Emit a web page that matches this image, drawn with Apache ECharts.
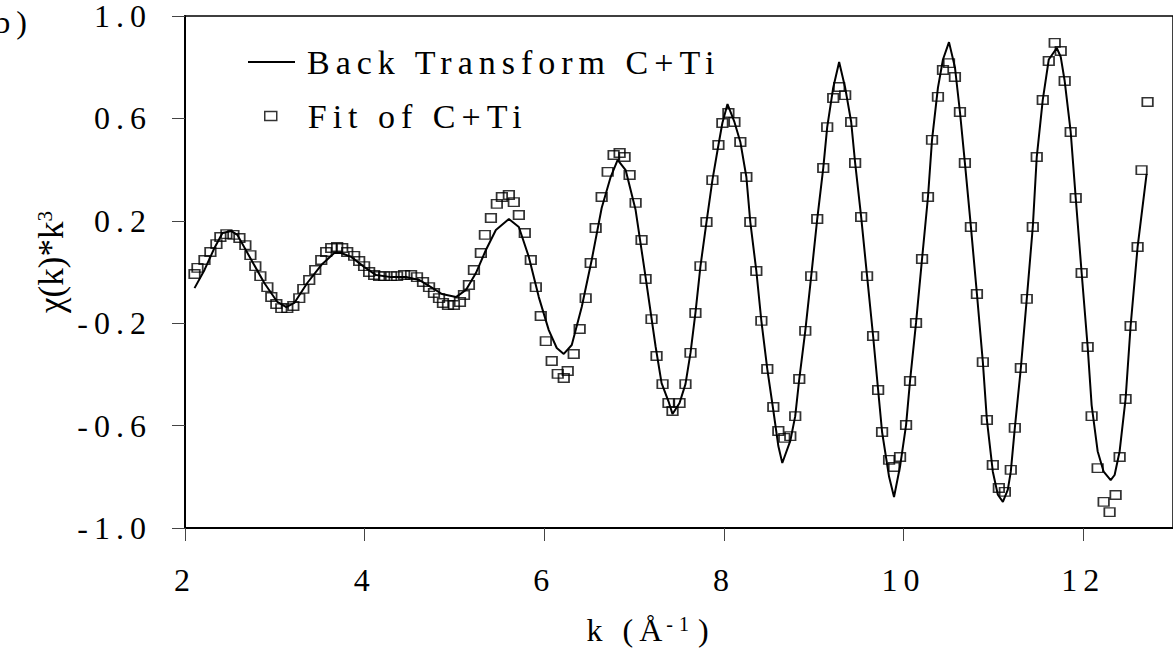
<!DOCTYPE html>
<html>
<head>
<meta charset="utf-8">
<script src="https://cdn.jsdelivr.net/npm/echarts@6.0.0/dist/echarts.min.js"></script>
<style>
  html, body { margin: 0; padding: 0; background: #fff; }
  #chart { width: 1173px; height: 661px; }
  /* the original figure is stretched sideways, so its text looks tracked out */
  #chart text { letter-spacing: 6px; }
  /* the rotated y title is not stretched along its length */
  #chart text[style*="35px"], #chart text[style*="21px"] { letter-spacing: 0; }
</style>
</head>
<body>
<div id="chart"></div>
<script>
// back transform (solid line)
const lineK = [
  2.106, 2.217, 2.328, 2.417, 2.517, 2.583, 2.739, 2.883, 3.028, 3.128, 3.217, 3.361, 3.517, 3.661, 3.739,
  3.850, 3.994, 4.128, 4.294, 4.472, 4.606, 4.739, 4.861, 5.017, 5.128, 5.239, 5.350, 5.461, 5.606, 5.717,
  5.828, 5.939, 6.050, 6.139, 6.217, 6.306, 6.417, 6.528, 6.639, 6.739, 6.817, 6.906, 7.017, 7.128, 7.239,
  7.306, 7.383, 7.428, 7.506, 7.572, 7.628, 7.683, 7.739, 7.806, 7.872, 7.939, 7.983, 8.040, 8.117, 8.183,
  8.250, 8.294, 8.361, 8.417, 8.483, 8.550, 8.606, 8.650, 8.739, 8.794, 8.839, 8.906, 8.972, 9.039, 9.106,
  9.150, 9.217, 9.283, 9.350, 9.417, 9.461, 9.528, 9.594, 9.661, 9.717, 9.761, 9.839, 9.894, 9.961, 10.028,
  10.072, 10.139, 10.206, 10.272, 10.317, 10.383, 10.439, 10.506, 10.572, 10.628, 10.683, 10.750, 10.817, 10.883, 10.928,
  10.994, 11.050, 11.106, 11.161, 11.194, 11.239, 11.306, 11.372, 11.439, 11.483, 11.550, 11.617, 11.706, 11.750, 11.794,
  11.861, 11.917, 11.983, 12.050, 12.094, 12.161, 12.228, 12.306, 12.350, 12.406, 12.472, 12.528, 12.606, 12.706,
]
const lineChi = [
  -0.063, 0.008, 0.094, 0.152, 0.160, 0.145, 0.047, -0.043, -0.117, -0.137, -0.121, -0.043, 0.027, 0.074, 0.074,
  0.059, 0.020, -0.012, -0.020, -0.020, -0.031, -0.059, -0.086, -0.098, -0.070, -0.004, 0.086, 0.164, 0.207, 0.176,
  0.059, -0.098, -0.227, -0.297, -0.320, -0.285, -0.137, 0.047, 0.250, 0.371, 0.438, 0.398, 0.242, -0.020, -0.290,
  -0.434, -0.505, -0.555, -0.512, -0.438, -0.316, -0.160, 0.023, 0.195, 0.359, 0.496, 0.582, 0.656, 0.586, 0.508,
  0.371, 0.195, 0.004, -0.191, -0.379, -0.540, -0.680, -0.746, -0.660, -0.563, -0.418, -0.230, -0.016, 0.207, 0.406,
  0.566, 0.720, 0.820, 0.720, 0.586, 0.426, 0.215, -0.016, -0.250, -0.461, -0.625, -0.800, -0.879, -0.760, -0.598,
  -0.426, -0.199, 0.051, 0.293, 0.516, 0.720, 0.830, 0.898, 0.800, 0.625, 0.426, 0.176, -0.086, -0.352, -0.578,
  -0.780, -0.870, -0.898, -0.850, -0.780, -0.609, -0.375, -0.105, 0.176, 0.449, 0.672, 0.830, 0.875, 0.840, 0.746,
  0.547, 0.289, -0.004, -0.293, -0.520, -0.700, -0.780, -0.813, -0.793, -0.700, -0.496, -0.211, 0.098, 0.383,
]

// fit (open squares)
const fitK = [
  2.106, 2.139, 2.217, 2.283, 2.350, 2.394, 2.461, 2.539, 2.606, 2.672, 2.728, 2.783, 2.839, 2.917, 2.961,
  3.017, 3.072, 3.139, 3.206, 3.272, 3.317, 3.383, 3.450, 3.517, 3.572, 3.628, 3.694, 3.750, 3.806, 3.883,
  3.939, 3.994, 4.050, 4.106, 4.161, 4.217, 4.294, 4.361, 4.439, 4.517, 4.583, 4.650, 4.717, 4.772, 4.828,
  4.872, 4.928, 4.994, 5.061, 5.106, 5.161, 5.217, 5.294, 5.339, 5.406, 5.472, 5.528, 5.606, 5.661, 5.717,
  5.783, 5.850, 5.906, 5.961, 6.017, 6.083, 6.150, 6.217, 6.261, 6.328, 6.394, 6.461, 6.517, 6.572, 6.639,
  6.706, 6.772, 6.839, 6.894, 6.950, 7.017, 7.083, 7.128, 7.194, 7.250, 7.317, 7.383, 7.428, 7.506, 7.572,
  7.628, 7.683, 7.739, 7.806, 7.872, 7.939, 7.983, 8.050, 8.117, 8.183, 8.250, 8.294, 8.361, 8.417, 8.483,
  8.550, 8.606, 8.672, 8.739, 8.794, 8.839, 8.906, 8.972, 9.039, 9.106, 9.150, 9.217, 9.283, 9.350, 9.417,
  9.461, 9.528, 9.594, 9.661, 9.717, 9.761, 9.839, 9.894, 9.961, 10.028, 10.072, 10.139, 10.206, 10.272, 10.317,
  10.383, 10.439, 10.506, 10.572, 10.628, 10.683, 10.750, 10.817, 10.883, 10.928, 10.994, 11.061, 11.128, 11.194, 11.239,
  11.306, 11.372, 11.439, 11.483, 11.550, 11.617, 11.683, 11.750, 11.794, 11.861, 11.917, 11.983, 12.050, 12.094, 12.161,
  12.228, 12.294, 12.361, 12.406, 12.472, 12.528, 12.606, 12.650, 12.717,
]
const fitChi = [
  -0.008, 0.016, 0.047, 0.078, 0.109, 0.137, 0.148, 0.145, 0.133, 0.105, 0.066, 0.023, -0.016, -0.059, -0.098,
  -0.125, -0.141, -0.141, -0.133, -0.102, -0.066, -0.031, 0.008, 0.047, 0.078, 0.094, 0.098, 0.094, 0.078, 0.063,
  0.043, 0.023, 0.000, -0.012, -0.016, -0.016, -0.016, -0.016, -0.012, -0.012, -0.020, -0.039, -0.059, -0.082, -0.102,
  -0.121, -0.129, -0.129, -0.117, -0.090, -0.051, 0.008, 0.074, 0.145, 0.211, 0.266, 0.293, 0.301, 0.273, 0.223,
  0.152, 0.047, -0.059, -0.172, -0.270, -0.348, -0.398, -0.414, -0.387, -0.320, -0.223, -0.102, 0.035, 0.172, 0.293,
  0.391, 0.457, 0.465, 0.449, 0.379, 0.270, 0.125, -0.027, -0.184, -0.328, -0.438, -0.512, -0.543, -0.512, -0.438,
  -0.316, -0.160, 0.023, 0.195, 0.359, 0.496, 0.582, 0.621, 0.586, 0.508, 0.371, 0.195, 0.004, -0.191, -0.379,
  -0.527, -0.621, -0.648, -0.641, -0.563, -0.418, -0.230, -0.016, 0.207, 0.406, 0.566, 0.680, 0.723, 0.691, 0.586,
  0.426, 0.215, -0.016, -0.250, -0.461, -0.625, -0.734, -0.762, -0.723, -0.598, -0.426, -0.199, 0.051, 0.293, 0.516,
  0.684, 0.789, 0.816, 0.762, 0.625, 0.426, 0.176, -0.086, -0.352, -0.578, -0.754, -0.844, -0.859, -0.773, -0.609,
  -0.375, -0.105, 0.176, 0.449, 0.672, 0.824, 0.895, 0.863, 0.746, 0.547, 0.289, -0.004, -0.293, -0.563, -0.766,
  -0.898, -0.938, -0.871, -0.723, -0.496, -0.211, 0.098, 0.398, 0.664,
]

const xTicks = [2, 4, 6, 8, 10, 12]
const yTicks = [-1.0, -0.6, -0.2, 0.2, 0.6, 1.0]

const FONT = 'Liberation Serif'
const textBase = { fontFamily: FONT, fontSize: 32, color: '#000' }
const SPACING = 6 // keep in step with the css letter-spacing

const chart = echarts.init(document.getElementById('chart'), null, { renderer: 'svg' })

chart.setOption({
  animation: false,
  backgroundColor: '#fff',
  grid: { left: 185, top: 16, width: 990, height: 512, show: true, borderColor: '#000', borderWidth: 1.5 },
  legend: [
    {
      data: [{ name: 'Back Transform C+Ti', icon: 'rect' }],
      left: 248,
      top: 45,
      padding: 0,
      itemWidth: 47,
      itemHeight: 2,
      selectedMode: false,
      itemStyle: { color: '#000' },
      textStyle: { ...textBase, fontSize: 34, padding: [0, 0, 0, 7] },
    },
    {
      data: [{ name: 'Fit of C+Ti', icon: 'rect' }],
      left: 264,
      top: 99,
      padding: 0,
      itemWidth: 12,
      itemHeight: 9,
      selectedMode: false,
      itemStyle: { color: 'transparent', borderColor: '#000', borderWidth: 1.5 },
      textStyle: { ...textBase, fontSize: 34, padding: [0, 0, 0, 26] },
    },
  ],
  xAxis: {
    type: 'value',
    min: 2,
    max: 13,
    name: 'k (Å{sup|-1}{p|)}',
    nameLocation: 'middle',
    nameGap: 86,
    nameTextStyle: {
      ...textBase,
      padding: [0, 48, 0, 0],
      rich: {
        sup: { fontFamily: FONT, fontSize: 20, verticalAlign: 'top', padding: [0, 0, 0, 16] },
        p: { fontFamily: FONT, fontSize: 32, padding: [0, 0, 0, 2 * SPACING] },
      },
    },
    axisLine: { onZero: false, lineStyle: { color: '#000', width: 2 } },
    axisTick: { customValues: xTicks, length: 13, lineStyle: { color: '#444', width: 1 } },
    axisLabel: { ...textBase, customValues: xTicks, margin: 36 },
    splitLine: { show: false },
  },
  yAxis: {
    type: 'value',
    min: -1,
    max: 1,
    name: 'χ(k)*k{sup|3}',
    nameLocation: 'middle',
    nameGap: 116,
    nameTextStyle: {
      fontFamily: FONT,
      fontSize: 35,
      color: '#000',
      padding: [0, 0, 0, 20],
      rich: { sup: { fontFamily: FONT, fontSize: 21, verticalAlign: 'top' } },
    },
    axisLine: { show: true, onZero: false, lineStyle: { color: '#000', width: 2 } },
    axisTick: { show: true, customValues: yTicks, length: 13, lineStyle: { color: '#444', width: 1 } },
    axisLabel: { ...textBase, customValues: yTicks, margin: 33, formatter: (v) => v.toFixed(1) },
    splitLine: { show: false },
  },
  graphic: [
    {
      type: 'text',
      x: 33,
      y: 22,
      style: { text: 'b)', fontFamily: FONT, fontSize: 32, fill: '#000', align: 'right', verticalAlign: 'middle' },
    },
  ],
  series: [
    {
      name: 'Back Transform C+Ti',
      type: 'line',
      data: lineK.map((k, i) => [k, lineChi[i]]),
      symbol: 'none',
      lineStyle: { color: '#000', width: 2 },
      itemStyle: { color: '#000' },
    },
    {
      name: 'Fit of C+Ti',
      type: 'scatter',
      data: fitK.map((k, i) => [k, fitChi[i]]),
      symbol: 'rect',
      symbolSize: [10.5, 8.5],
      itemStyle: { color: 'transparent', borderColor: '#000', borderWidth: 1.6 },
    },
  ],
})
</script>
</body>
</html>
